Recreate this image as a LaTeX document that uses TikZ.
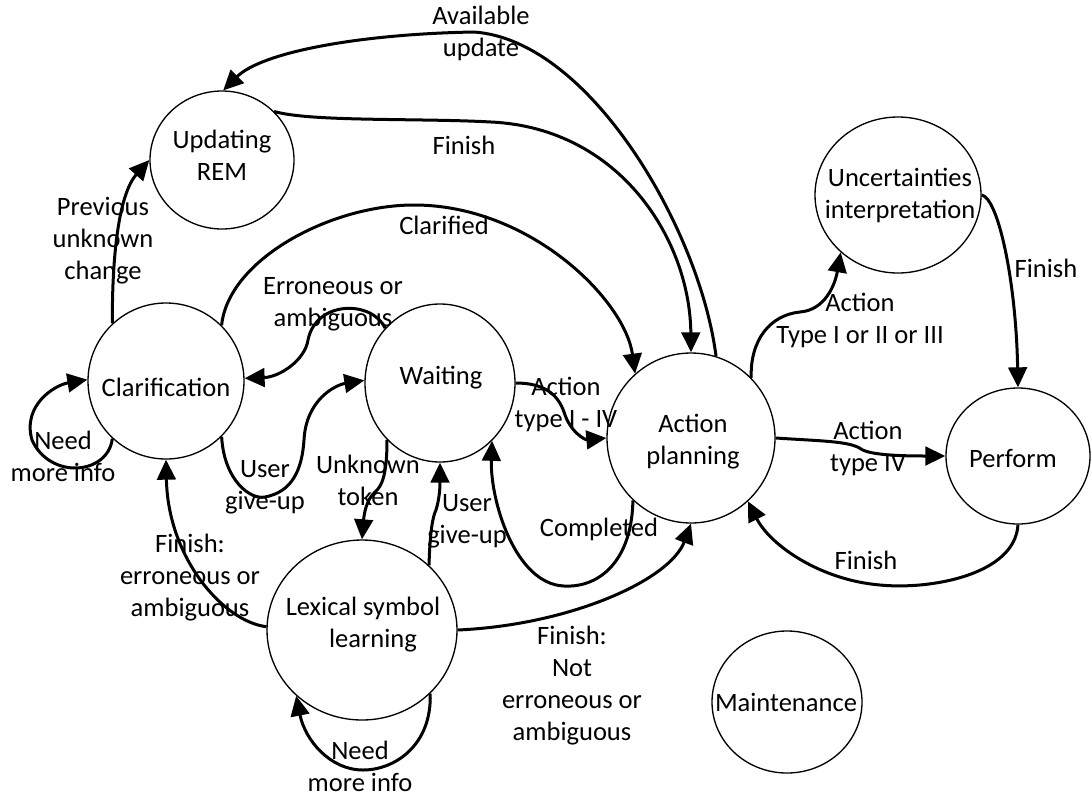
\documentclass[tikz,border=0pt]{standalone}
\usepackage{fontspec}
\setmainfont{Carlito}
\usetikzlibrary{shapes.geometric,arrows.meta}
% line break that keeps every line at the same strut height
\newcommand\nlx{\\\strut}
\begin{document}
\begin{tikzpicture}[x=0.75pt,y=-0.75pt,
  every node/.style={font=\fontsize{19.9}{24}\selectfont},
  stnode/.style 2 args={ellipse, draw, line width=1pt, inner sep=0pt,
    minimum width=#1*1.5pt, minimum height=#2*1.5pt},
  lbl/.style={align=center, inner sep=0pt, execute at begin node=\strut},
  conn/.style={line width=2.25pt, -{Triangle[length=15pt,width=14pt]}},
]
\useasboundingbox (0,0) rectangle (1092,800);
\fill[white] (0,0) rectangle (1092,800);

% states
\node[stnode={72}{69}] (upd) at (222,160) {};
\node[stnode={78}{78}] (cla) at (166,381) {};
\node[stnode={75}{79}] (wai) at (440,383) {};
\node[stnode={84}{85}] (act) at (691,438) {};
\node[stnode={83}{78}] (unc) at (898,195) {};
\node[stnode={72}{68}] (per) at (1018,456) {};
\node[stnode={95}{90}] (lex) at (362,630) {};
\node[stnode={75}{71}] (mai) at (787,702) {};

% state names
\node[lbl] (t-upd) at (222,160.5) {Updating\nlx REM};
\node[lbl] (t-cla) at (166,390) {Clarification};
\node[lbl] (t-wai) at (441,378) {Waiting};
\node[lbl] (t-act) at (693,444) {Action\nlx planning};
\node[lbl] (t-unc) at (900,198.5) {Uncertainties\nlx interpretation};
\node[lbl] (t-per) at (1013,461) {Perform};
\node[lbl] (t-lex) at (363,627) {Lexical symbol\nlx\hspace*{0.75em}learning};
\node[lbl] (t-mai) at (786,705) {Maintenance};

% transition labels
\node[lbl] (l-avail) at (481,36) {Available\nlx update};
\node[lbl] (l-fin1) at (464,148) {Finish};
\node[lbl] (l-clar) at (444,228) {Clarified};
\node[lbl] (l-prev) at (103,243) {Previous\nlx unknown\nlx change};
\node[lbl] (l-err) at (333,307) {Erroneous or\nlx ambiguous};
\node[lbl] (l-need1) at (63,461) {Need\nlx more info};
\node[lbl] (l-give1) at (265,490) {User\nlx give-up};
\node[lbl] (l-unk) at (368,485) {Unknown\nlx token};
\node[lbl] (l-give2) at (467,524) {User\nlx give-up};
\node[lbl] (l-act14) at (566,407) {Action\nlx type I - IV};
\node[lbl] (l-comp) at (599,530) {Completed};
\node[lbl] (l-fin2) at (190,580) {Finish:\nlx erroneous or\nlx ambiguous};
\node[lbl] (l-fin3) at (572,688) {Finish:\nlx Not\nlx erroneous or\nlx ambiguous};
\node[lbl] (l-need2) at (360,771) {Need\nlx more info};
\node[lbl] (l-act13) at (860,323) {Action\nlx Type I or II or III};
\node[lbl] (l-fin4) at (1046,271) {Finish};
\node[lbl] (l-act4) at (868,451) {Action\nlx type IV};
\node[lbl] (l-fin5) at (866,563) {Finish};

% transitions
\draw[conn] (act.73) .. controls (700,230) and (590,40) .. (474,32)
  .. controls (360,34) and (262,52) .. (upd.89);
\draw[conn] (upd.43) .. controls (310,122) and (420,118) .. (491,122)
  .. controls (620,128) and (690,240) .. (act.90);
\draw[conn] (cla.45) .. controls (228,260) and (330,205) .. (414,205)
  .. controls (530,205) and (625,300) .. (act.131);
\draw[conn] (cla.133) .. controls (112,260) and (118,195) .. (upd.180);
\draw[conn] (wai.135) .. controls (372,300) and (316,300) .. (308,340)
  .. controls (305,360) and (280,377) .. (cla.2);
\draw[conn] (cla.315) .. controls (224,480) and (250,500) .. (265,497)
  .. controls (292,492) and (302,470) .. (304,440)
  .. controls (306,400) and (335,385) .. (wai.178);
\draw[conn] (cla.227) .. controls (108,475) and (50,480) .. (32,440)
  .. controls (22,405) and (55,385) .. (cla.179);
\draw[conn] (wai.0) .. controls (545,383) and (558,395) .. (564,412)
  .. controls (570,432) and (585,440) .. (act.180);
\draw[conn] (act.227) .. controls (632,560) and (600,588) .. (564,586)
  .. controls (515,584) and (490,500) .. (wai.312);
\draw[conn] (wai.227) .. controls (387,475) and (382,486) .. (375,492)
  .. controls (366,500) and (364,515) .. (lex.90);
\draw[conn] (lex.44) .. controls (430,530) and (433,516) .. (436,510)
  .. controls (439,500) and (440,490) .. (wai.270);
\draw[conn] (lex.178) .. controls (225,622) and (168,560) .. (cla.270);
\draw[conn] (lex.0) .. controls (570,625) and (670,580) .. (act.270);
\draw[conn] (lex.317) .. controls (432,745) and (395,770) .. (363,770)
  .. controls (330,770) and (305,740) .. (lex.225);
\draw[conn] (act.45) .. controls (750,340) and (770,315) .. (800,312)
  .. controls (825,310) and (835,285) .. (unc.225);
\draw[conn] (unc.0) .. controls (998,198) and (1016,280) .. (per.90);
\draw[conn] (act.0) .. controls (820,441) and (850,441) .. (861,449)
  .. controls (870,455) and (900,456) .. (per.180);
\draw[conn] (per.270) .. controls (1015,575) and (930,590) .. (880,585)
  .. controls (820,580) and (770,545) .. (act.312);
\end{tikzpicture}
\end{document}
